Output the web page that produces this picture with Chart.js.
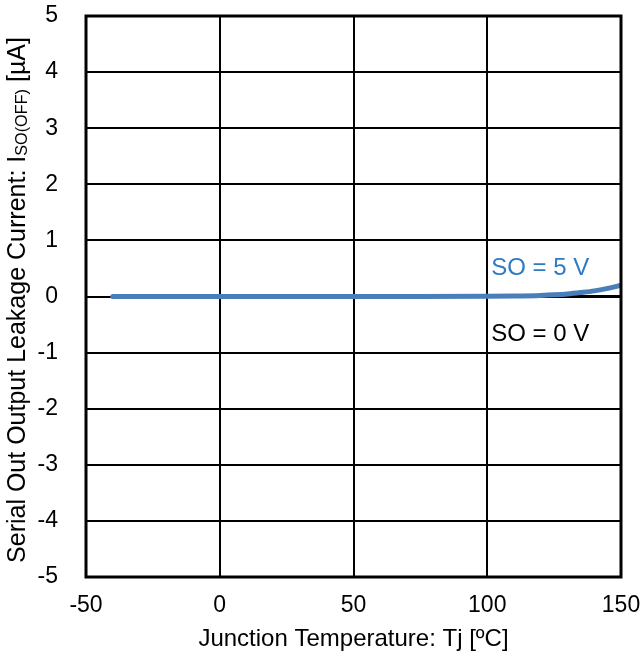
<!DOCTYPE html>
<html>
<head>
<meta charset="utf-8">
<script src="https://cdn.jsdelivr.net/npm/chart.js@4/dist/chart.umd.min.js"></script>
<style>
  html, body { margin: 0; padding: 0; background: #fff; }
  #wrap { width: 640px; height: 657px; }
</style>
</head>
<body>
<div id="wrap"><canvas id="chart" width="640" height="657"></canvas></div>
<script>
// Junction temperature [ºC]
const temps = [-40, -25, 0, 25, 50, 75, 100, 110, 120, 125, 130, 135, 140, 145, 150];
// leakage current [µA]
const so5V = [0, 0, 0, 0, 0, 0, 0.005, 0.01, 0.02, 0.03, 0.045, 0.07, 0.1, 0.145, 0.2];
const so0V = [0, 0, 0, 0, 0, 0, 0, 0, 0, 0, 0, 0, 0, 0, 0];

const xTicks = [-50, 0, 50, 100, 150];
const yTicks = [-5, -4, -3, -2, -1, 0, 1, 2, 3, 4, 5];

const seriesLabels = [
  { text: 'SO = 5 V', x: 101.5, y: 0.5, color: '#2e7bc4' },
  { text: 'SO = 0 V', x: 101.5, y: -0.68, color: '#000000' },
];

const FONT = 'Liberation Sans, Arial, sans-serif';
const TICK_SIZE = 23;
const TITLE_SIZE = 24;

const toPoints = (xs, ys) => xs.map((x, i) => ({ x, y: ys[i] }));

// keep the plot area fixed: no extra room for half-labels at the edges
const noEdgePadding = s => {
  s.paddingLeft = 0;
  s.paddingRight = 0;
  s.paddingTop = 0;
  s.paddingBottom = 0;
};

// frame around the plot area, series labels and the y-axis title with subscript
const decorations = {
  id: 'decorations',
  afterDatasetsDraw(chart) {
    const { ctx, chartArea: a, scales } = chart;
    ctx.save();
    ctx.strokeStyle = '#000';
    ctx.lineWidth = 3;
    ctx.strokeRect(a.left, a.top, a.right - a.left, a.bottom - a.top);

    ctx.font = `${TITLE_SIZE}px ${FONT}`;
    ctx.textBaseline = 'middle';
    ctx.textAlign = 'left';
    seriesLabels.forEach(l => {
      ctx.fillStyle = l.color;
      ctx.fillText(l.text, scales.x.getPixelForValue(l.x), scales.y.getPixelForValue(l.y));
    });
    ctx.restore();
  },
  afterDraw(chart) {
    const { ctx } = chart;
    const size = TITLE_SIZE + 1;
    const parts = [
      { t: 'Serial Out Output Leakage Current: I', size, dy: 0 },
      { t: 'SO(OFF)', size: size * 0.65, dy: 5 },
      { t: ' [µA]', size, dy: 0 },
    ];
    ctx.save();
    let total = 0;
    parts.forEach(p => { ctx.font = `${p.size}px ${FONT}`; p.w = ctx.measureText(p.t).width; total += p.w; });
    ctx.translate(18, 300);
    ctx.rotate(-Math.PI / 2);
    ctx.fillStyle = '#000';
    ctx.textBaseline = 'middle';
    ctx.textAlign = 'left';
    let x = -total / 2;
    parts.forEach(p => {
      ctx.font = `${p.size}px ${FONT}`;
      ctx.fillText(p.t, x, p.dy);
      x += p.w;
    });
    ctx.restore();
  }
};

new Chart(document.getElementById('chart'), {
  type: 'line',
  data: {
    datasets: [
      {
        label: 'SO = 5 V',
        data: toPoints(temps, so5V),
        borderColor: '#4a7ebb',
        borderWidth: 5,
        pointRadius: 0,
        cubicInterpolationMode: 'monotone',
        borderCapStyle: 'round',
      },
      {
        label: 'SO = 0 V',
        data: toPoints(temps, so0V),
        borderColor: '#000',
        borderWidth: 3,
        pointRadius: 0,
      },
    ],
  },
  options: {
    responsive: false,
    animation: false,
    layout: { padding: { left: 0, top: 16, right: 19, bottom: 0 } },
    plugins: { legend: { display: false }, tooltip: { enabled: false } },
    scales: {
      x: {
        type: 'linear',
        min: -50,
        max: 150,
        afterBuildTicks: s => { s.ticks = xTicks.map(v => ({ value: v })); },
        afterFit: s => { s.height = 80; noEdgePadding(s); },
        grid: { color: '#000', lineWidth: 2, drawTicks: false },
        border: { display: false },
        ticks: { color: '#000', padding: 15, maxRotation: 0, font: { family: FONT, size: TICK_SIZE } },
        title: {
          display: true,
          text: 'Junction Temperature: Tj [ºC]',
          color: '#000',
          padding: { top: 4, bottom: 3 },
          font: { family: FONT, size: TITLE_SIZE },
        },
      },
      y: {
        min: -5,
        max: 5,
        afterBuildTicks: s => { s.ticks = yTicks.map(v => ({ value: v })); },
        afterFit: s => { s.width = 86; noEdgePadding(s); },
        grid: { color: '#000', lineWidth: 2, drawTicks: false },
        border: { display: false },
        ticks: { color: '#000', padding: 28, font: { family: FONT, size: TICK_SIZE } },
      },
    },
  },
  plugins: [decorations],
});
</script>
</body>
</html>
